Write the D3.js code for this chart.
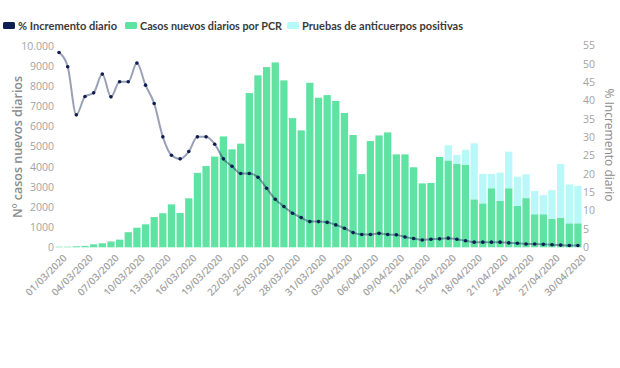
<!DOCTYPE html>
<html>
<head>
<meta charset="utf-8">
<script src="https://cdn.jsdelivr.net/npm/d3@7"></script>
<style>
  body { margin: 0; background: #fff; }
  svg { display: block; font-family: "Open Sans", sans-serif; }
</style>
</head>
<body>
<svg id="chart" width="620" height="368"></svg>
<script>
// **** Data
const dias = d3.timeDay.range(new Date(2020, 2, 1), new Date(2020, 4, 1));
const casosPCR = [30, 30, 50, 70, 150, 200, 290, 380, 750, 970,
  1140, 1500, 1690, 2130, 1700, 2430, 3690, 4030, 4500, 5500,
  4860, 5140, 7650, 8530, 8940, 9170, 8280, 6410, 5800, 8160,
  7420, 7550, 7260, 6660, 5570, 3630, 5270, 5550, 5700, 4610,
  4610, 3970, 3170, 3190, 4480, 4310, 4130, 4100, 2380, 2180,
  2930, 2300, 2930, 2060, 2440, 1640, 1640, 1420, 1470, 1190, 1190];
const anticuerpos = [0, 0, 0, 0, 0, 0, 0, 0, 0, 0,
  0, 0, 0, 0, 0, 0, 0, 0, 0, 0,
  0, 0, 0, 0, 0, 0, 0, 0, 0, 0,
  0, 0, 0, 0, 0, 0, 0, 0, 0, 0,
  0, 0, 0, 0, 0, 750, 450, 740, 2780, 1460,
  710, 1400, 1810, 1440, 1180, 1150, 950, 1420, 2660, 1930, 1850];
const incremento = [53.1, 49.2, 36.1, 41.1, 42.1, 47.2, 41.0, 45.1, 45.1, 50.2,
  44.2, 39.2, 30.1, 25.1, 24.1, 26.1, 30.1, 30.1, 28.1, 24.1,
  22.1, 20.1, 20.1, 19.1, 16.1, 13.1, 11.1, 9.3, 8.1, 7.0,
  7.0, 6.8, 6.1, 5.2, 4.0, 3.5, 3.5, 3.8, 3.5, 3.4,
  2.8, 2.4, 2.0, 2.2, 2.3, 2.5, 2.2, 1.8, 1.4, 1.4,
  1.4, 1.4, 1.2, 1.1, 0.9, 0.9, 0.8, 0.7, 0.6, 0.5, 0.5];
const ticksIzq = [0, 1000, 2000, 3000, 4000, 5000, 6000, 7000, 8000, 9000, 10000];
const ticksDer = [0, 5, 10, 15, 20, 25, 30, 35, 40, 45, 50, 55];
const leyenda = ["% Incremento diario", "Casos nuevos diarios por PCR", "Pruebas de anticuerpos positivas"];

// **** Colours
const colorLinea = "#0e1d52";
const colorPCR = "#5ee3a2";
const colorAnti = "#b9f8f8";
const colorTexto = "#a3a3a3";

const svg = d3.select("#chart");
const fmt = d3.timeFormat("%d/%m/%Y");

// **** Scales
const x = d3.scaleBand()
  .domain(dias.map(fmt))
  .range([55, 582])
  .paddingInner(0.16)
  .paddingOuter(0.05);

const yIzq = d3.scaleLinear().domain([0, 10000]).range([247.3, 45.7]);
const yDer = d3.scaleLinear().domain([0, 55]).range([247.3, 45.5]);

// **** Bars
const filas = dias.map((d, i) => ({
  fecha: fmt(d), pcr: casosPCR[i], anti: anticuerpos[i], pct: incremento[i]
}));

svg.append("g").selectAll("rect")
  .data(filas)
  .join("rect")
  .attr("x", d => x(d.fecha))
  .attr("width", x.bandwidth())
  .attr("y", d => yIzq(d.pcr))
  .attr("height", d => yIzq(0) - yIzq(d.pcr))
  .attr("fill", colorPCR);

svg.append("g").selectAll("rect")
  .data(filas.filter(d => d.anti > 0))
  .join("rect")
  .attr("x", d => x(d.fecha))
  .attr("width", x.bandwidth())
  .attr("y", d => yIzq(d.pcr + d.anti))
  .attr("height", d => yIzq(d.pcr) - yIzq(d.pcr + d.anti))
  .attr("fill", colorAnti);

// **** Line
const cx = d => x(d.fecha) + x.bandwidth() / 2;
const linea = d3.line()
  .x(cx)
  .y(d => yDer(d.pct))
  .curve(d3.curveMonotoneX);

svg.append("path")
  .datum(filas)
  .attr("d", linea)
  .attr("fill", "none")
  .attr("stroke", colorLinea)
  .attr("stroke-opacity", 0.42)
  .attr("stroke-width", 2);

svg.append("g").selectAll("circle")
  .data(filas)
  .join("circle")
  .attr("cx", cx)
  .attr("cy", d => yDer(d.pct))
  .attr("r", 1.8)
  .attr("fill", colorLinea);

// **** Axes
const ejeIzq = svg.append("g")
  .attr("transform", "translate(54,0)")
  .call(d3.axisLeft(yIzq).tickValues(ticksIzq).tickSize(0).tickPadding(0)
    .tickFormat(d => d === 10000 ? "10.000" : d));

const ejeDer = svg.append("g")
  .attr("transform", "translate(583,0)")
  .call(d3.axisRight(yDer).tickValues(ticksDer).tickSize(0).tickPadding(0));

const ejeX = svg.append("g")
  .attr("transform", "translate(0,250)")
  .call(d3.axisBottom(x).tickValues(x.domain().filter((d, i) => i % 3 === 0)).tickSize(0));

[ejeIzq, ejeDer, ejeX].forEach(g => {
  g.select(".domain").remove();
  g.selectAll("text")
    .attr("fill", colorTexto)
    .attr("font-size", 10.5)
    .attr("font-family", "Open Sans, sans-serif");
});

ejeX.selectAll("text")
  .attr("font-weight", 600)
  .attr("font-size", 10)
  .attr("text-anchor", "end")
  .attr("dy", "0.35em")
  .attr("transform", "translate(4,4) rotate(-45)");

// **** Axis titles
svg.append("text")
  .attr("transform", "translate(22,147) rotate(-90)")
  .attr("text-anchor", "middle")
  .attr("fill", "#8c8c8c")
  .attr("font-size", 12.5)
  .attr("font-weight", 600)
  .text("Nº casos nuevos diarios");

svg.append("text")
  .attr("transform", "translate(605,145) rotate(90)")
  .attr("text-anchor", "middle")
  .attr("fill", "#8c8c8c")
  .attr("font-size", 12)
  .text("% Incremento diario");

// **** Legend
const colLeyenda = [colorLinea, colorPCR, colorAnti];
const posLeyenda = [3, 125, 287];
const anchoLeyenda = [99, 142, 161];
const gLey = svg.append("g");
leyenda.forEach((t, i) => {
  gLey.append("rect")
    .attr("x", posLeyenda[i])
    .attr("y", 22)
    .attr("width", 12)
    .attr("height", 7)
    .attr("rx", 1.5)
    .attr("fill", colLeyenda[i]);
  gLey.append("text")
    .attr("x", posLeyenda[i] + 15)
    .attr("y", 30)
    .attr("fill", "#3a3a3a")
    .attr("font-size", 11)
    .attr("font-weight", 700)
    .attr("font-family", "Lato, sans-serif")
    .attr("textLength", anchoLeyenda[i])
    .attr("lengthAdjust", "spacingAndGlyphs")
    .text(t);
});
</script>
</body>
</html>
